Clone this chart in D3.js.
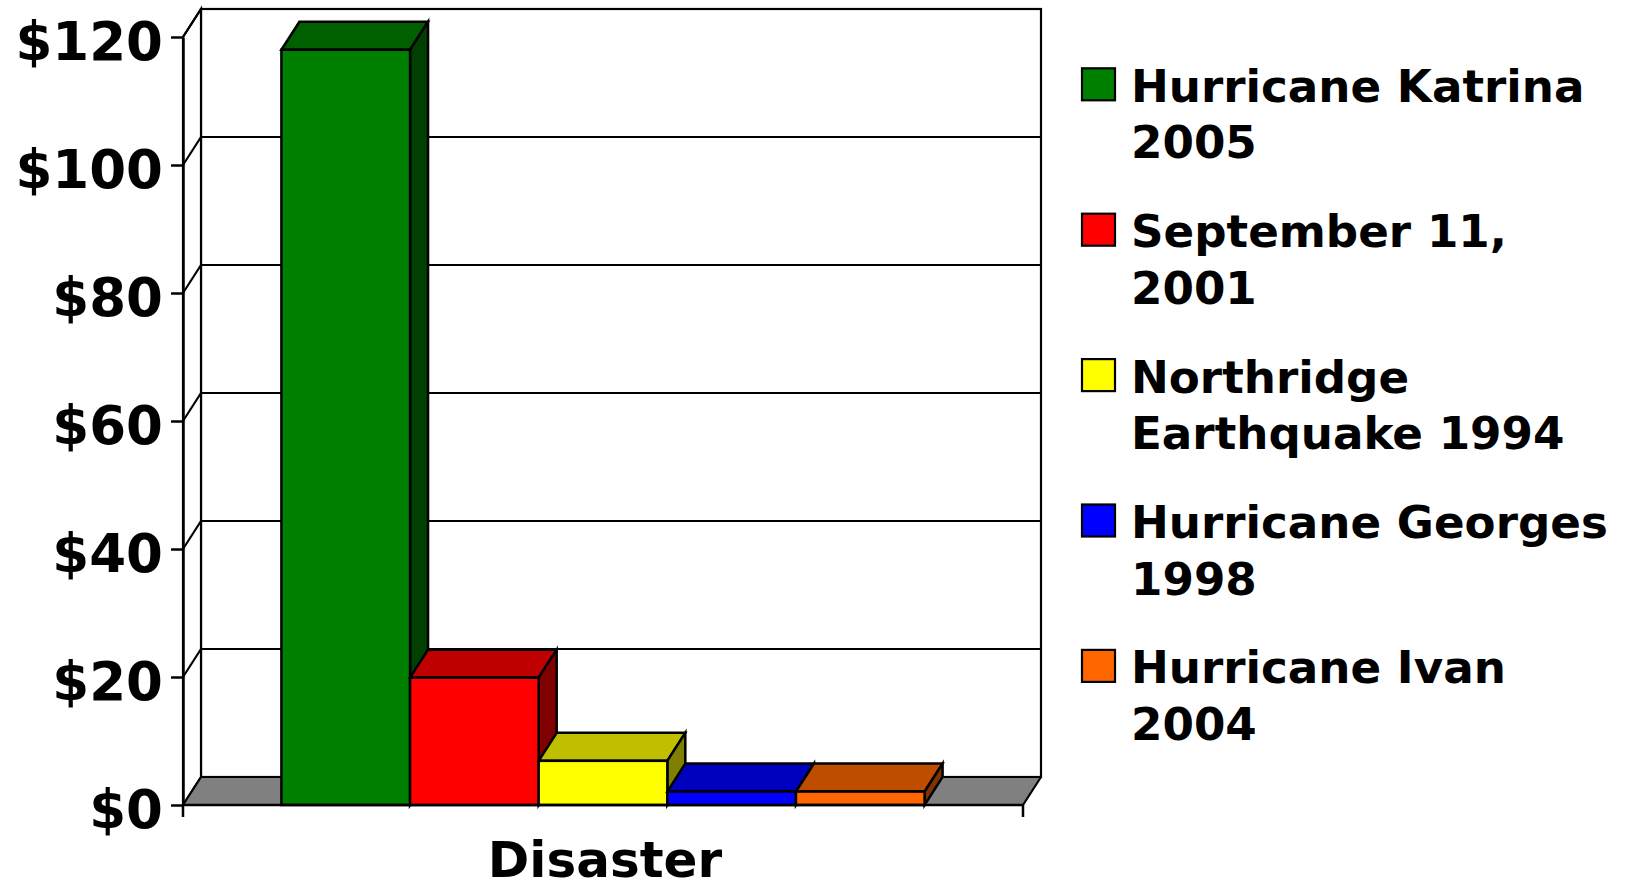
<!DOCTYPE html>
<html>
<head>
<meta charset="utf-8">
<script src="https://cdn.jsdelivr.net/npm/d3@7"></script>
<style>
  html, body { margin: 0; padding: 0; background: #fff; }
  svg { display: block; }
  text { font-family: "DejaVu Sans", Verdana, sans-serif; font-weight: bold; fill: #000; }
</style>
</head>
<body>
<svg id="chart" width="1626" height="890"></svg>
<script>
const categories = ["Disaster"];
const seriesNames = ["Hurricane Katrina 2005", "September 11, 2001", "Northridge Earthquake 1994", "Hurricane Georges 1998", "Hurricane Ivan 2004"];
const legendLines = [["Hurricane Katrina", "2005"], ["September 11,", "2001"], ["Northridge", "Earthquake 1994"], ["Hurricane Georges", "1998"], ["Hurricane Ivan", "2004"]];
const values = [118, 19.9, 6.9, 2.1, 2.1];
const colors = ["#008000", "#ff0000", "#ffff00", "#0000ff", "#ff6600"];
const yTicks = [0, 20, 40, 60, 80, 100, 120];

const svg = d3.select("#chart");

// 3D depth offset
const DX = 18, DY = -28;

const y = d3.scaleLinear().domain([0, 120]).range([805, 37]);
const x0 = d3.scaleBand().domain(categories).range([183, 1023]).paddingInner(0).paddingOuter(0.153);
const x1 = d3.scaleBand().domain(seriesNames).range([0, x0.bandwidth()]).padding(0);
const [xL, xR] = x0.range();

function shade(c, k) {
  const r = d3.rgb(c);
  return d3.rgb(Math.round(r.r * k), Math.round(r.g * k), Math.round(r.b * k)).formatHex();
}

const g = svg.append("g");

// Back wall
g.append("rect")
  .attr("x", xL + DX).attr("y", y(120) + DY)
  .attr("width", xR - xL).attr("height", y(0) - y(120))
  .attr("fill", "#fff").attr("stroke", "#000").attr("stroke-width", 2.2);

// Left side wall
g.append("path")
  .attr("d", `M${xL},${y(0)} L${xL},${y(120)} L${xL + DX},${y(120) + DY} L${xL + DX},${y(0) + DY} Z`)
  .attr("fill", "#fff").attr("stroke", "#000").attr("stroke-width", 2.2);

// Gridlines on back wall + side wall
const grid = g.append("g");
yTicks.filter(t => t > 0).forEach(t => {
  grid.append("line")
    .attr("x1", xL + DX).attr("x2", xR + DX)
    .attr("y1", y(t) + DY).attr("y2", y(t) + DY)
    .attr("stroke", "#000").attr("stroke-width", 2.2);
  grid.append("line")
    .attr("x1", xL).attr("x2", xL + DX)
    .attr("y1", y(t)).attr("y2", y(t) + DY)
    .attr("stroke", "#000").attr("stroke-width", 2.2);
});

// Floor
g.append("path")
  .attr("d", `M${xL},${y(0)} L${xR},${y(0)} L${xR + DX},${y(0) + DY} L${xL + DX},${y(0) + DY} Z`)
  .attr("fill", "#808080").attr("stroke", "#000").attr("stroke-width", 2.2).attr("stroke-linejoin", "round");

// Bars
const bars = g.append("g");
seriesNames.forEach((s, i) => {
  const bx = x0(categories[0]) + x1(s);
  const bw = x1.bandwidth();
  const top = y(values[i]);
  const base = y(0);
  const c = colors[i];
  const bg = bars.append("g").attr("stroke", "#000").attr("stroke-width", 2.5).attr("stroke-linejoin", "miter");
  bg.append("path")
    .attr("d", `M${bx},${top} L${bx + DX},${top + DY} L${bx + bw + DX},${top + DY} L${bx + bw},${top} Z`)
    .attr("fill", shade(c, 0.75));
  bg.append("path")
    .attr("d", `M${bx + bw},${top} L${bx + bw + DX},${top + DY} L${bx + bw + DX},${base + DY} L${bx + bw},${base} Z`)
    .attr("fill", shade(c, 0.5));
  bg.append("rect")
    .attr("x", bx).attr("y", top).attr("width", bw).attr("height", base - top)
    .attr("fill", c);
});

// Y axis (front)
const yAxis = d3.axisLeft(y).tickValues(yTicks).tickFormat(d => "$" + d)
  .tickSize(12).tickSizeOuter(0).tickPadding(8);
const ya = svg.append("g").attr("transform", `translate(${xL},0)`).call(yAxis);
ya.select(".domain").attr("stroke", "#000").attr("stroke-width", 2.5);
ya.selectAll(".tick line").attr("stroke", "#000").attr("stroke-width", 2.5);
ya.selectAll(".tick text")
  .attr("font-family", "'DejaVu Sans', Verdana, sans-serif")
  .attr("font-weight", "bold")
  .attr("font-size", 53)
  .attr("fill", "#000")
  .attr("dy", "0.42em");

// X axis line and end ticks
const xa = svg.append("g");
xa.append("line").attr("x1", xL).attr("x2", xR).attr("y1", y(0)).attr("y2", y(0))
  .attr("stroke", "#000").attr("stroke-width", 2.5);
[xL, xR].forEach(xx => {
  xa.append("line").attr("x1", xx).attr("x2", xx).attr("y1", y(0)).attr("y2", y(0) + 12)
    .attr("stroke", "#000").attr("stroke-width", 2.5);
});
xa.append("text")
  .attr("x", x0(categories[0]) + x0.bandwidth() / 2 + 2)
  .attr("y", 877)
  .attr("text-anchor", "middle")
  .attr("font-size", 50)
  .text(categories[0]);

// Legend
const lg = svg.append("g");
seriesNames.forEach((s, i) => {
  const top = 68.3 + i * 145.4;
  lg.append("rect")
    .attr("x", 1082).attr("y", top).attr("width", 33).attr("height", 32)
    .attr("fill", colors[i]).attr("stroke", "#000").attr("stroke-width", 2.2);
  const t = lg.append("text").attr("x", 1131).attr("y", top + 33.4).attr("font-size", 45.2);
  legendLines[i].forEach((line, j) => {
    t.append("tspan").attr("x", 1131).attr("dy", j === 0 ? 0 : 56.6).text(line);
  });
});
</script>
</body>
</html>
